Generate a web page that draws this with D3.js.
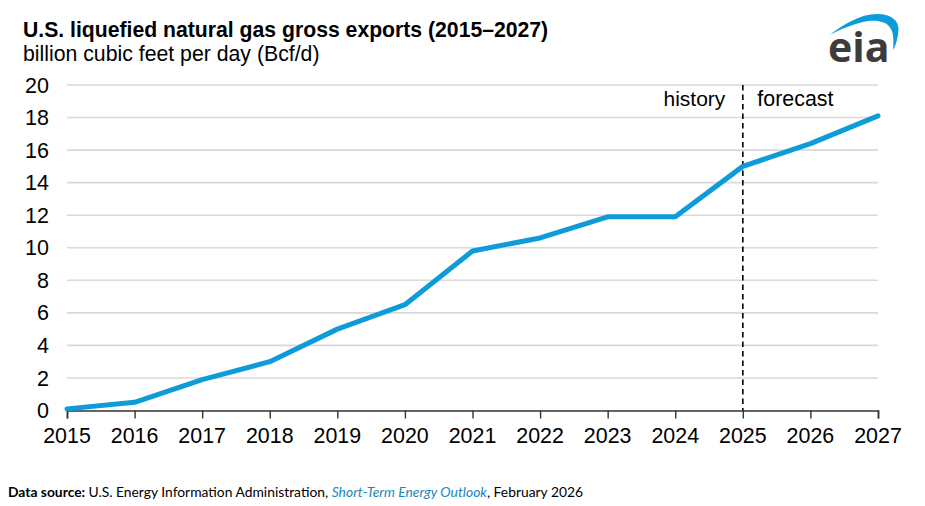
<!DOCTYPE html>
<html><head><meta charset="utf-8">
<script src="https://cdn.jsdelivr.net/npm/d3@7"></script>
<style>html,body{margin:0;padding:0;background:#fff}svg{display:block}text{font-family:"Liberation Sans",Arial,sans-serif;fill:#000}</style>
</head><body><svg id="c" width="925" height="506"></svg>
<script>
const years=[2015,2016,2017,2018,2019,2020,2021,2022,2023,2024,2025,2026,2027];
const exportsBcfd=[0.1,0.5,1.9,3.0,5.0,6.5,9.8,10.6,11.9,11.9,15.0,16.4,18.1];
const yTicks=[0,2,4,6,8,10,12,14,16,18,20];
const title="U.S. liquefied natural gas gross exports (2015–2027)";
const subtitle="billion cubic feet per day (Bcf/d)";
const dividerYear=2025;

const svg=d3.select("#c");
const x=d3.scaleLinear().domain([2015,2027]).range([67,878]);
const y=d3.scaleLinear().domain([0,20]).range([410.5,85]);

svg.append("text").attr("x",23).attr("y",37).attr("font-size",21.2).attr("font-weight",700).text(title);
svg.append("text").attr("x",23).attr("y",61).attr("font-size",21.25).text(subtitle);

svg.append("g").selectAll("line").data(yTicks.filter(d=>d>0)).join("line")
 .attr("x1",x.range()[0]).attr("x2",x.range()[1]).attr("y1",d=>y(d)).attr("y2",d=>y(d))
 .attr("stroke","#d9d9d9").attr("stroke-width",1.6);

const ya=svg.append("g").attr("transform",`translate(${x.range()[0]},0)`)
 .call(d3.axisLeft(y).tickValues(yTicks).tickSize(0).tickPadding(18));
ya.select(".domain").remove();
ya.selectAll("text").attr("font-size",21.5).attr("text-anchor","end").attr("dy","0.33em")
 .style("font-family",'"Liberation Sans",Arial,sans-serif');

const xa=svg.append("g").attr("transform",`translate(0,${y(0)})`)
 .call(d3.axisBottom(x).tickValues(years).tickFormat(d3.format("d")).tickSize(8).tickPadding(9));
xa.select(".domain").attr("stroke","#333").attr("stroke-width",1.6);
xa.selectAll("line").attr("stroke","#333").attr("stroke-width",1.4);
xa.selectAll("text").attr("font-size",21.4).attr("dx",-0.5).style("font-family",'"Liberation Sans",Arial,sans-serif');

svg.append("line").attr("x1",x(dividerYear)).attr("x2",x(dividerYear)).attr("y1",y(20)).attr("y2",y(0))
 .attr("stroke","#000").attr("stroke-width",1.6).attr("stroke-dasharray","5.5 4");
svg.append("text").attr("x",x(dividerYear)-17.5).attr("y",106).attr("text-anchor","end").attr("font-size",21).text("history");
svg.append("text").attr("x",x(dividerYear)+14.5).attr("y",106).attr("font-size",21.4).text("forecast");

svg.append("path").datum(years.map((d,i)=>[d,exportsBcfd[i]]))
 .attr("fill","none").attr("stroke","#0d9bd9").attr("stroke-width",5).attr("stroke-linejoin","round").attr("stroke-linecap","round")
 .attr("d",d3.line().x(d=>x(d[0])).y(d=>y(d[1])));

const f=svg.append("text").attr("x",8).attr("y",497).attr("font-size",13.85);
f.append("tspan").attr("font-weight",700).style("font-family","Lato").text("Data source: ");
f.append("tspan").style("font-family","Lato").text("U.S. Energy Information Administration, ");
f.append("tspan").style("font-family","Lato").attr("font-style","italic").style("fill","#1a87b8").text("Short-Term Energy Outlook");
f.append("tspan").style("font-family","Lato").text(", February 2026");

const g=svg.append("g");
g.append("path").attr("fill","#0d9bd9")
 .attr("d","M830 34.5 C843 25 860 14 877 14 C892 14 899 21 898.5 30 C898 38 896 45 893 50 C893.5 44 894 36 891.5 30 C888 22 879 20 868 21 C855 23 842 29 830 34.5 Z");
g.append("text").attr("x",828).attr("y",62).attr("font-size",41).attr("font-weight",700)
 .style("font-family","Open Sans").style("fill","#3c3c3c").text("eia");
</script></body></html>
